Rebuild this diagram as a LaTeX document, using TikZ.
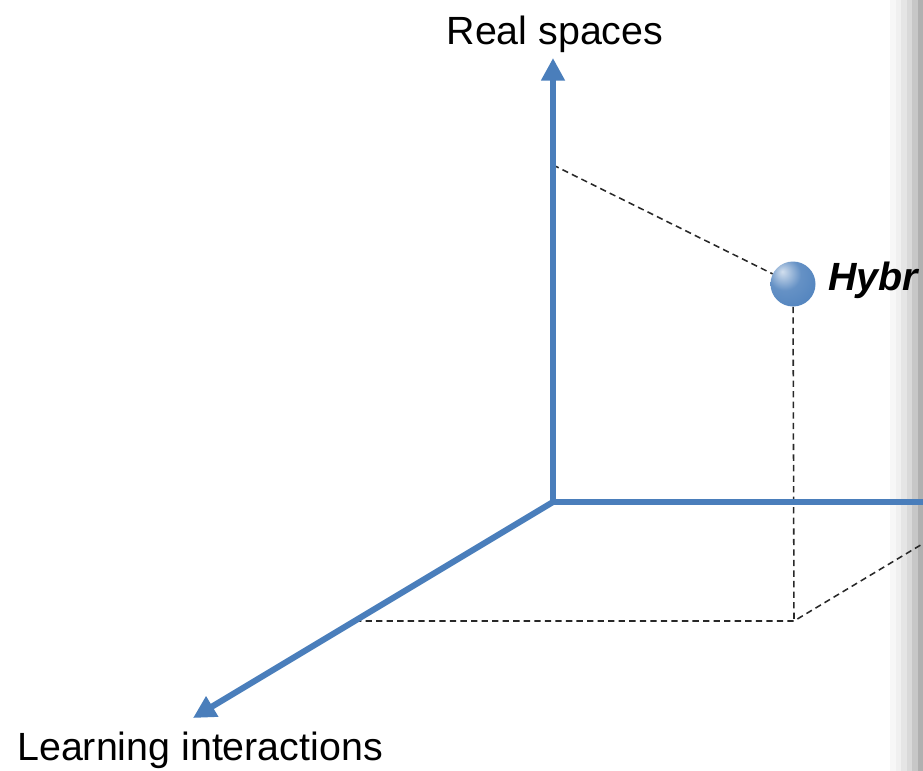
\documentclass[tikz,border=0pt]{standalone}
\usepackage{fontspec}
\setmainfont{Liberation Sans}
\usetikzlibrary{arrows.meta,positioning,calc}

\definecolor{axisblue}{RGB}{74,126,187}
\definecolor{dashgray}{RGB}{40,40,40}

\pgfdeclareradialshading{glassball}{\pgfpoint{-12bp}{14bp}}{%
  color(0bp)=(axisblue!25!white); color(18bp)=(axisblue!85!white);
  color(45bp)=(axisblue); color(62bp)=(axisblue!80!black); color(80bp)=(axisblue!80!black)}

\tikzset{
  axisline/.style={axisblue, line width=4.3pt},
  axisarrow/.style={axisline, -{Triangle[length=16pt,width=16pt]}},
  guide/.style={dashgray, line width=1.1pt, dash pattern=on 4.5pt off 3pt},
  axislabel/.style={font=\fontsize{28}{33}\selectfont, inner sep=0pt},
  sphere/.style={circle, minimum size=32pt, inner sep=0pt, shading=glassball},
}

\begin{document}
\begin{tikzpicture}[x=0.025cm, y=-0.025cm]

\useasboundingbox (0,0) rectangle (923,771);
\clip (0,0) rectangle (923,771);

% shadow strip at the right edge
\foreach \i/\tone in {0/3, 1/6, 2/10, 3/15, 4/22, 5/31} {
    \fill[black!\tone] (890+\i*5.6, 0) rectangle (923, 771);
}

% Axis points
\coordinate (O) at (553,502);
\coordinate (realtip) at (553,58);
\coordinate (learntip) at (193,718);
\coordinate (hybtip) at (940,502);

% Projection points
\coordinate (realmark) at (553,165);
\coordinate (learnmark) at (355,621);
\coordinate (foot) at (794,621);
\coordinate (farmark) at (944,531);

% Dashed guides
\node[sphere] (hybrid) at (793,284) {};
\draw[guide] (realmark) -- (hybrid);
\draw[guide] (hybrid) -- (foot);
\draw[guide] (learnmark) -- (foot) -- (farmark);

% Axes
\draw[axisline] (O) -- (hybtip);
\draw[axisarrow] (O) -- (realtip);
\draw[axisarrow] (O) -- (learntip);

% Labels
\node[axislabel, anchor=base] (real) at (555,44) {Real spaces};
\node[axislabel, anchor=base west] (learn) at (17,760) {Learning interactions};
\node[axislabel, anchor=base west, font=\fontsize{28}{33}\selectfont\bfseries\itshape] (hyb) at (828,290) {Hybr};

\end{tikzpicture}
\end{document}
